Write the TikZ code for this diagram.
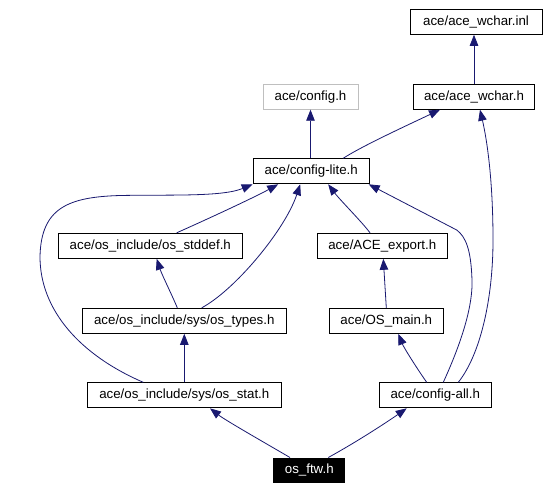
\documentclass[tikz,border=0pt]{standalone}
\usepackage{fontspec}
\setmainfont{Liberation Sans}
\usetikzlibrary{arrows.meta}
\definecolor{edgec}{HTML}{191970}
\definecolor{grayb}{HTML}{BFBFBF}
\tikzset{
  filebox/.style={draw=black, line width=1pt, rectangle, minimum height=25pt, inner sep=0pt, font=\fontsize{13.3}{16}\selectfont, text=black},
  graybox/.style={filebox, draw=grayb},
  rootbox/.style={filebox, fill=black, draw=black, text=white, minimum height=24pt},
  dep/.style={draw=edgec, line width=0.8pt, -{Triangle[length=11pt,width=8.5pt]}, color=edgec},
}
\begin{document}
\begin{tikzpicture}[x=1pt,y=-1pt]
\useasboundingbox (0,0) rectangle (556,490);
\fill[white] (0,0) rectangle (556,490);
\node[filebox, minimum width=132pt] (inl) at (476,21.8) {ace/ace\_wchar.inl};
\node[graybox, minimum width=95pt] (config) at (310.5,96.7) {ace/config.h};
\node[filebox, minimum width=121pt] (wchar) at (474,96.7) {ace/ace\_wchar.h};
\node[filebox, minimum width=116pt] (lite) at (311.2,171.3) {ace/config-lite.h};
\node[filebox, minimum width=184pt] (stddef) at (150.3,245.8) {ace/os\_include/os\_stddef.h};
\node[filebox, minimum width=130pt] (export) at (382.3,245.8) {ace/ACE\_export.h};
\node[filebox, minimum width=204pt] (types) at (184.3,320.8) {ace/os\_include/sys/os\_types.h};
\node[filebox, minimum width=114pt] (osmain) at (386.3,320.8) {ace/OS\_main.h};
\node[filebox, minimum width=194pt] (stat) at (184.3,395.3) {ace/os\_include/sys/os\_stat.h};
\node[filebox, minimum width=112pt] (all) at (435.3,395.3) {ace/config-all.h};
\node[rootbox, minimum width=70.7pt] (ftw) at (309.3,470) {os\_ftw.h};

% edges
\draw[dep] (wchar.north) -- (wchar.north |- inl.south);
\draw[dep] (lite.north -| config.south) -- (config.south);
\draw[dep] ([xshift=32pt]lite.north) .. controls (362,146) and (410,124) .. ([xshift=-34pt]wchar.south);
\draw[dep] ([xshift=26.4pt]stddef.north) .. controls (210,218) and (255,197) .. ([xshift=-33pt]lite.south);
\draw[dep] ([xshift=17.4pt]types.north) .. controls (235,290) and (285,230) .. ([xshift=-11pt]lite.south);
\draw[dep] ([xshift=-7pt]types.north) .. controls (172,295) and (162,275) .. ([xshift=6.4pt]stddef.south);
\draw[dep] (stat.north) -- (stat.north |- types.south);
\draw[dep] ([xshift=-41pt]stat.north) .. controls (80,355) and (40,310) .. (40,256.7)
   .. controls (41,208) and (68,197) .. (120,195.5)
   .. controls (170,194.5) and (222,197) .. (lite.south west);
\draw[dep] ([xshift=-12.3pt]export.north) .. controls (362,222) and (340,200) .. ([xshift=17pt]lite.south);
\draw[dep] (osmain.north) -- ([xshift=1pt]export.south);
\draw[dep] ([xshift=-8.6pt]all.north) .. controls (418,370) and (404,348) .. ([xshift=12pt]osmain.south);
\draw[dep] ([xshift=8pt]all.north) .. controls (458,350) and (473,310) .. (472,280)
   .. controls (471,250) and (466,237) .. (456.7,230)
   -- ([xshift=-1pt]lite.south east);
\draw[dep] ([xshift=23pt]all.north) .. controls (480,355) and (493,300) .. (493,240)
   .. controls (493,180) and (487,140) .. ([xshift=6pt]wchar.south);
\draw[dep] ([xshift=-19.3pt]ftw.north) .. controls (260,440) and (225,420) .. ([xshift=25.7pt]stat.south);
\draw[dep] ([xshift=19pt]ftw.north) .. controls (360,440) and (390,420) .. ([xshift=-28.6pt]all.south);
\end{tikzpicture}
\end{document}
